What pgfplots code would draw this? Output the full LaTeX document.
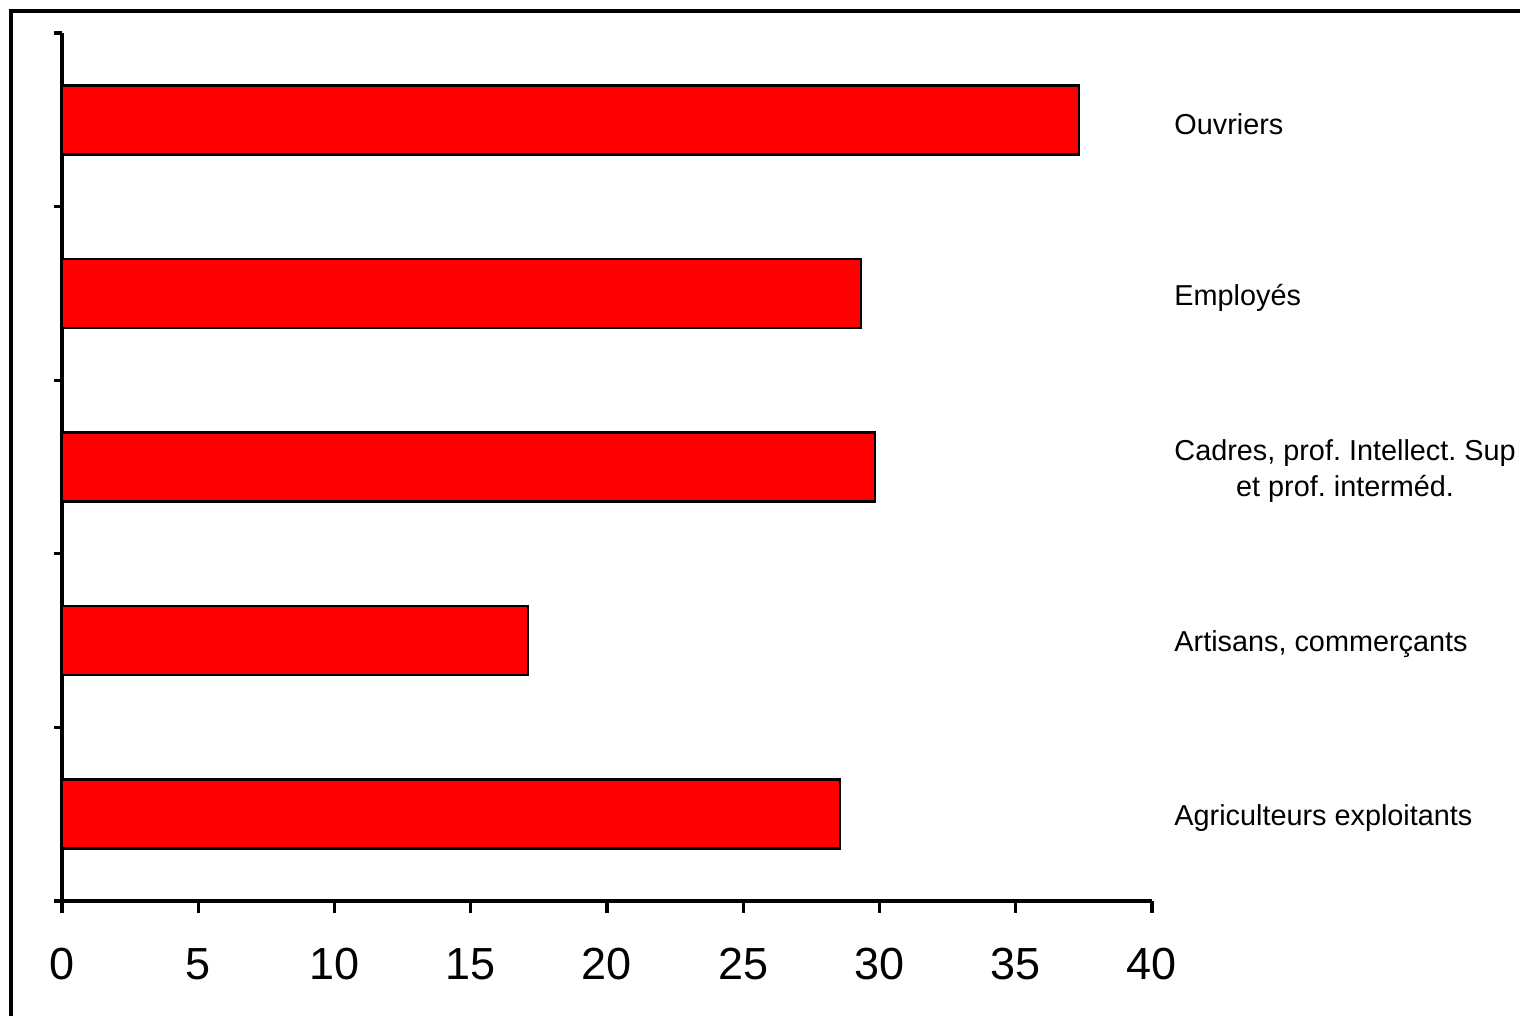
\documentclass[border=0pt]{standalone}
\usepackage{pgfplots}
\pgfplotsset{compat=1.18}
\usepackage{fontspec}
\setmainfont{Liberation Sans}
\frenchspacing
\begin{document}
\begin{tikzpicture}
\useasboundingbox (0,0) rectangle (15.2cm,10.16cm);
\draw[line width=1pt] (0.11cm,-0.1cm) -- (0.11cm,10.05cm) -- (15.3cm,10.05cm);
\begin{axis}[
  at={(0.62cm,1.15cm)}, anchor=south west,
  scale only axis, width=10.9cm, height=8.68cm,
  xmin=0, xmax=40, ymin=-0.5, ymax=4.5,
  axis x line*=bottom, axis y line*=left,
  axis line style={line width=0.9pt},
  xtick={0,5,...,40},
  ytick={-0.5,0.5,...,4.5}, yticklabels={},
  tick align=outside,
  xtick style={line width=0.9pt, black, /pgfplots/major tick length=0.12cm},
  ytick style={line width=0.9pt, black, /pgfplots/major tick length=0.08cm},
  ticklabel style={font=\fontsize{12.8}{15}\selectfont},
  xticklabel style={yshift=-0.2cm},
  /pgf/number format/assume math mode=true,
  clip=false,
]
\addplot[xbar, bar width=0.69cm, fill=red, draw=black, line width=0.7pt] coordinates {
  (28.55,0) (17.1,1) (29.83,2) (29.32,3) (37.32,4)
};
\begin{scope}[every node/.style={anchor=west, font=\fontsize{8.2}{10.5}\selectfont, inner sep=0pt, yshift=-0.04cm}]
\node at (axis cs:40.8,0) {Agriculteurs exploitants};
\node at (axis cs:40.8,1) {Artisans, commerçants};
\node[align=center] at (axis cs:40.8,2) {Cadres, prof. Intellect. Sup\\et prof. interméd.};
\node at (axis cs:40.8,3) {Employés};
\node at (axis cs:40.8,4) {Ouvriers};
\end{scope}
\end{axis}
\end{tikzpicture}
\end{document}
